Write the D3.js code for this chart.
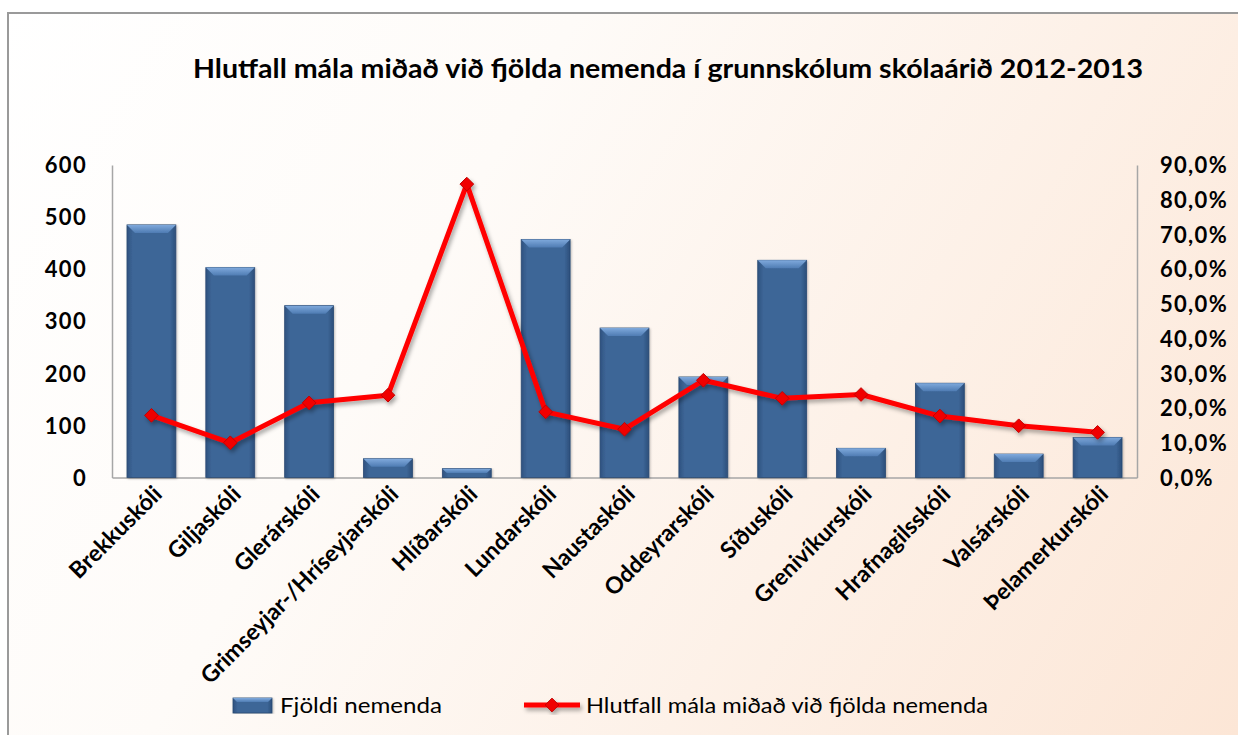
<!DOCTYPE html>
<html>
<head>
<meta charset="utf-8">
<script src="https://cdn.jsdelivr.net/npm/d3@7"></script>
<style>
  html, body { margin: 0; background: #fdf3ec; overflow: hidden; }
  svg { display: block; }
  .num { font-family: Lato, "Open Sans", sans-serif; font-weight: bold; }
</style>
</head>
<body>
<div id="chart"></div>
<script>
// data
const schools = ['Brekkuskóli', 'Giljaskóli', 'Glerárskóli', 'Grimseyjar-/Hríseyjarskóli', 'Hlíðarskóli',
  'Lundarskóli', 'Naustaskóli', 'Oddeyrarskóli', 'Síðuskóli', 'Grenivíkurskóli', 'Hrafnagilsskóli',
  'Valsárskóli', 'Þelamerkurskóli'];
const nemendur = [485, 403, 330, 36, 17, 457, 287, 193, 417, 56, 181, 45, 77];
const hlutfall = [17.9, 10.0, 21.5, 23.7, 84.5, 18.9, 13.9, 28.0, 22.8, 23.9, 17.7, 14.9, 13.0];
const leftTicks = [0, 100, 200, 300, 400, 500, 600];
const rightTicks = [0, 10, 20, 30, 40, 50, 60, 70, 80, 90];
const title = 'Hlutfall mála miðað við fjölda nemenda í grunnskólum skólaárið 2012-2013';
const seriesNames = ['Fjöldi nemenda', 'Hlutfall mála miðað við fjölda nemenda'];

const W = 1238, H = 735;
const plot = { left: 112, right: 1137, top: 165, bottom: 477.5 };

const svg = d3.select('#chart')
  .append('svg')
  .attr('width', W)
  .attr('height', H);

const defs = svg.append('defs');

// background gradient
const bg = defs.append('linearGradient').attr('id', 'bg')
  .attr('gradientUnits', 'userSpaceOnUse')
  .attr('x1', 0).attr('y1', 0).attr('x2', W).attr('y2', H);
bg.append('stop').attr('offset', '0%').attr('stop-color', '#ffffff');
bg.append('stop').attr('offset', '35%').attr('stop-color', '#fefbf8');
bg.append('stop').attr('offset', '100%').attr('stop-color', '#fce6d6');

// bar body gradient
const barG = defs.append('linearGradient').attr('id', 'barBody')
  .attr('x1', 0).attr('y1', 0).attr('x2', 1).attr('y2', 0);
barG.append('stop').attr('offset', '0%').attr('stop-color', '#2f5280');
barG.append('stop').attr('offset', '12%').attr('stop-color', '#3d6697');
barG.append('stop').attr('offset', '88%').attr('stop-color', '#3d6697');
barG.append('stop').attr('offset', '100%').attr('stop-color', '#2c4e7a');

const bevG = defs.append('linearGradient').attr('id', 'bevel')
  .attr('x1', 0).attr('y1', 0).attr('x2', 0).attr('y2', 1);
bevG.append('stop').attr('offset', '0%').attr('stop-color', '#7fa9dc');
bevG.append('stop').attr('offset', '100%').attr('stop-color', '#4f7cb3');

const shadow = defs.append('filter').attr('id', 'shadow')
  .attr('x', '-20%').attr('y', '-20%').attr('width', '140%').attr('height', '140%');
shadow.append('feDropShadow').attr('dx', 2).attr('dy', 3).attr('stdDeviation', 2)
  .attr('flood-color', '#000').attr('flood-opacity', 0.35);

const barShadow = defs.append('filter').attr('id', 'barShadow')
  .attr('x', '-20%').attr('y', '-5%').attr('width', '140%').attr('height', '110%');
barShadow.append('feDropShadow').attr('dx', 1).attr('dy', 1).attr('stdDeviation', 1)
  .attr('flood-color', '#000').attr('flood-opacity', 0.25);

// page behind the chart frame
svg.append('rect')
  .attr('width', W).attr('height', H)
  .attr('fill', '#ffffff');

// chart area, only top and left edges of the frame are in view
svg.append('rect')
  .attr('x', 8).attr('y', 13)
  .attr('width', W - 8).attr('height', H - 13)
  .attr('fill', 'url(#bg)');
svg.append('path')
  .attr('d', `M8,${H}V13H${W}`)
  .attr('fill', 'none')
  .attr('stroke', '#9a9a9a')
  .attr('stroke-width', 2);

// title
svg.append('text')
  .attr('x', 668).attr('y', 78)
  .attr('text-anchor', 'middle')
  .attr('font-family', 'Lato, sans-serif')
  .attr('font-weight', 'bold')
  .attr('font-size', 27)
  .attr('textLength', 950)
  .attr('lengthAdjust', 'spacingAndGlyphs')
  .attr('fill', '#000')
  .text(title);

// scales
const x = d3.scaleBand()
  .domain(schools)
  .range([plot.left, plot.right])
  .paddingInner(0.38)
  .paddingOuter(0.19);

const yL = d3.scaleLinear().domain([0, 600]).range([plot.bottom, plot.top]);
const yR = d3.scaleLinear().domain([0, 90]).range([plot.bottom, plot.top]);

// axes (no tick marks, just lines and labels)
const leftAxis = svg.append('g')
  .attr('transform', `translate(${plot.left},0)`)
  .call(d3.axisLeft(yL).tickValues(leftTicks).tickSize(0).tickPadding(25));
const rightAxis = svg.append('g')
  .attr('transform', `translate(${plot.right},0)`)
  .call(d3.axisRight(yR).tickValues(rightTicks).tickSize(0).tickPadding(23)
    .tickFormat((d) => d3.format('.1f')(d).replace('.', ',') + '%'));
const bottomAxis = svg.append('g')
  .attr('transform', `translate(0,${plot.bottom})`)
  .call(d3.axisBottom(x).tickSize(0).tickFormat(''));

[leftAxis, rightAxis, bottomAxis].forEach((g) => {
  g.select('.domain').attr('stroke', '#a6a6a6').attr('stroke-width', 1.5);
  g.selectAll('text')
    .attr('class', 'num')
    .attr('font-size', 22)
    .attr('letter-spacing', 1.3)
    .attr('fill', '#000');
});
leftAxis.selectAll('text').attr('dy', '0.35em');
rightAxis.selectAll('text').attr('dy', '0.35em');

// x labels, rotated
svg.append('g')
  .selectAll('text')
  .data(schools)
  .enter()
  .append('text')
  .attr('class', 'num')
  .attr('font-size', 23)
  .attr('text-anchor', 'end')
  .attr('transform', (d) => `translate(${x(d) + x.bandwidth() / 2 + 12},${plot.bottom + 18}) rotate(-45)`)
  .text((d) => d);

// bars
const bars = svg.append('g');
const bev = 8;
schools.forEach((s, i) => {
  const bx = x(s);
  const bw = x.bandwidth();
  const by = yL(nemendur[i]);
  const bh = plot.bottom - by;
  const g = bars.append('g').attr('filter', 'url(#barShadow)');
  g.append('rect')
    .attr('x', bx).attr('y', by)
    .attr('width', bw).attr('height', bh)
    .attr('fill', 'url(#barBody)')
    .attr('stroke', '#2a4a73')
    .attr('stroke-width', 0.8);
  const b = Math.min(bev, bh / 2);
  g.append('polygon')
    .attr('points', [[bx, by], [bx + bw, by], [bx + bw - b, by + b], [bx + b, by + b]].join(' '))
    .attr('fill', 'url(#bevel)');
});

// line
const line = d3.line()
  .x((d, i) => x(schools[i]) + x.bandwidth() / 2)
  .y((d) => yR(d));

const lineG = svg.append('g').attr('filter', 'url(#shadow)');
lineG.append('path')
  .datum(hlutfall)
  .attr('d', line)
  .attr('fill', 'none')
  .attr('stroke', '#ff0000')
  .attr('stroke-width', 5)
  .attr('stroke-linejoin', 'round');

const diamond = d3.symbol().type(d3.symbolDiamond2).size(120);
lineG.selectAll('.marker')
  .data(hlutfall)
  .enter()
  .append('path')
  .attr('class', 'marker')
  .attr('d', diamond)
  .attr('transform', (d, i) => `translate(${x(schools[i]) + x.bandwidth() / 2},${yR(d)})`)
  .attr('fill', '#f00000')
  .attr('stroke', '#c00000')
  .attr('stroke-width', 1);

// legend
const legend = svg.append('g');
const lg1 = legend.append('g').attr('filter', 'url(#barShadow)');
lg1.append('rect')
  .attr('x', 233).attr('y', 698).attr('width', 39).attr('height', 15)
  .attr('fill', 'url(#barBody)').attr('stroke', '#2a4a73').attr('stroke-width', 0.8);
lg1.append('polygon')
  .attr('points', [[233, 698], [272, 698], [268, 702], [237, 702]].join(' '))
  .attr('fill', 'url(#bevel)');
legend.append('text')
  .attr('x', 280).attr('y', 713)
  .attr('font-family', 'Lato, sans-serif')
  .attr('font-size', 22)
  .attr('textLength', 162)
  .attr('lengthAdjust', 'spacingAndGlyphs')
  .attr('fill', '#000')
  .text(seriesNames[0]);

const lg2 = legend.append('g').attr('filter', 'url(#shadow)');
lg2.append('line')
  .attr('x1', 524).attr('x2', 580).attr('y1', 705).attr('y2', 705)
  .attr('stroke', '#ff0000').attr('stroke-width', 5);
lg2.append('path')
  .attr('d', diamond)
  .attr('transform', 'translate(552,705)')
  .attr('fill', '#f00000').attr('stroke', '#c00000');
legend.append('text')
  .attr('x', 586).attr('y', 713)
  .attr('font-family', 'Lato, sans-serif')
  .attr('font-size', 22)
  .attr('textLength', 402)
  .attr('lengthAdjust', 'spacingAndGlyphs')
  .attr('fill', '#000')
  .text(seriesNames[1]);
</script>
</body>
</html>
